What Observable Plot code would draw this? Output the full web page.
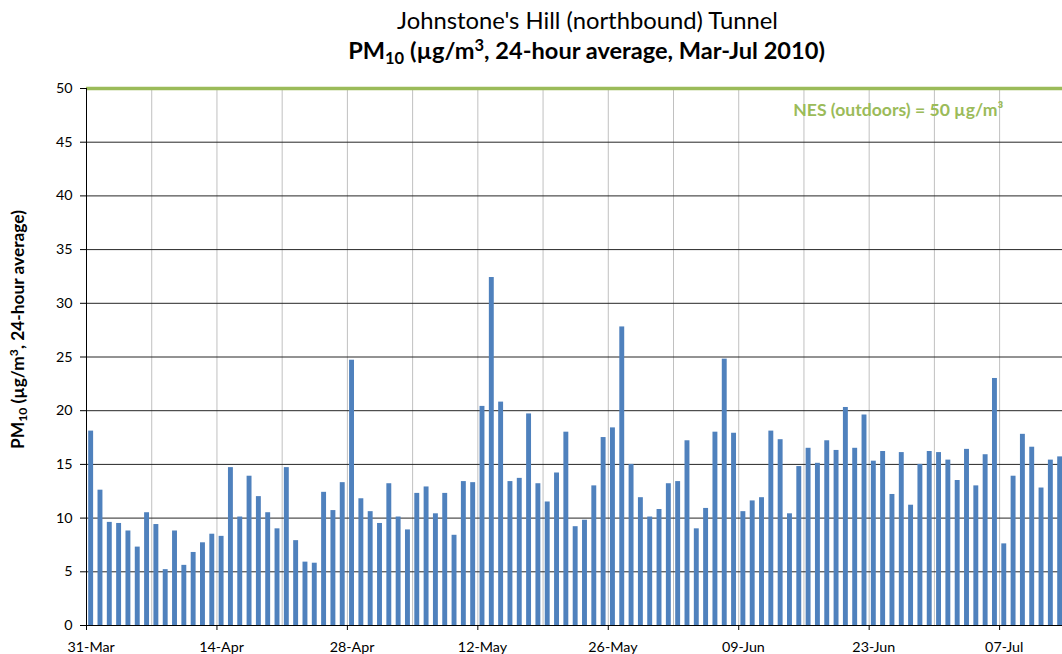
<!DOCTYPE html>
<html><head><meta charset="utf-8">
<script src="https://cdn.jsdelivr.net/npm/d3@7"></script>
<script src="https://cdn.jsdelivr.net/npm/@observablehq/plot@0.6"></script>
<style>
body{margin:0;background:#fff}
#chart{position:relative;width:1062px;height:654px;overflow:hidden}
</style>
</head><body><div id="chart"></div>
<script>
// ---- data ----
const startDate = "2010-03-31";
const pm10 = [18.1, 12.6, 9.6, 9.5, 8.8, 7.3, 10.5, 9.4, 5.2, 8.8, 5.6, 6.8, 7.7, 8.5, 8.3,
  14.7, 10.1, 13.9, 12.0, 10.5, 9.0, 14.7, 7.9, 5.9, 5.8, 12.4, 10.7, 13.3, 24.7, 11.8,
  10.6, 9.5, 13.2, 10.1, 8.9, 12.3, 12.9, 10.4, 12.3, 8.4, 13.4, 13.3, 20.4, 32.4, 20.8,
  13.4, 13.7, 19.7, 13.2, 11.5, 14.2, 18.0, 9.2, 9.8, 13.0, 17.5, 18.4, 27.8, 15.0, 11.9,
  10.1, 10.8, 13.2, 13.4, 17.2, 9.0, 10.9, 18.0, 24.8, 17.9, 10.6, 11.6, 11.9, 18.1, 17.3,
  10.4, 14.8, 16.5, 15.1, 17.2, 16.3, 20.3, 16.5, 19.6, 15.3, 16.2, 12.2, 16.1, 11.2, 15.0,
  16.2, 16.1, 15.4, 13.5, 16.4, 13.0, 15.9, 23.0, 7.6, 13.9, 17.8, 16.6, 12.8, 15.4, 15.7];
const xTickDates = ["2010-03-31", "2010-04-14", "2010-04-28", "2010-05-12", "2010-05-26", "2010-06-09", "2010-06-23", "2010-07-07"];
const xTickLabels = ["31-Mar", "14-Apr", "28-Apr", "12-May", "26-May", "09-Jun", "23-Jun", "07-Jul"];
const yTicks = [0, 5, 10, 15, 20, 25, 30, 35, 40, 45, 50];
const nesLimit = 50;
const nesLabel = "NES (outdoors) = 50 µg/m³";
const titleText = "Johnstone's Hill (northbound) Tunnel";

// ---- build ----
const start = new Date(startDate + "T00:00:00Z");
const end = new Date(start.getTime() + 104.75 * 864e5);
const rows = pm10.map((v, i) => ({
  start: d3.utcDay.offset(start, i),
  end: d3.utcDay.offset(start, i + 1),
  value: v
}));
const tickDates = xTickDates.map(s => new Date(s + "T00:00:00Z"));
const labelDates = tickDates.map(d => new Date(d.getTime() + 12 * 3600e3));
const labelMap = new Map(labelDates.map((d, i) => [d.getTime(), xTickLabels[i]]));
const gridDates = d3.utcDay.range(d3.utcDay.offset(start, 7), end, 7);
const yGrid = yTicks.filter(v => v > 0 && v < nesLimit);
const green = "#9BBB59";

const svg = Plot.plot({
  width: 1062, height: 654,
  marginLeft: 86, marginRight: 0, marginTop: 88, marginBottom: 29,
  x: {type: "utc", domain: [start, end]},
  y: {domain: [0, 50]},
  style: {fontFamily: "Lato, 'Open Sans', sans-serif", fontSize: "14.3px", color: "#000", background: "#fff", overflow: "visible"},
  marks: [
    Plot.ruleX(gridDates, {stroke: "#c0c0c0", strokeOpacity: 1}),
    Plot.ruleY(yGrid, {stroke: "#262626", strokeOpacity: 1}),
    Plot.rectY(rows, {x1: "start", x2: "end", y: "value", fill: "#4F81BD", insetLeft: 2.2, insetRight: 2.2}),
    Plot.ruleY([nesLimit], {stroke: green, strokeWidth: 3.4}),
    Plot.ruleX([start], {stroke: "#000"}),
    Plot.ruleY([0], {stroke: "#000"}),
    Plot.axisY({ticks: yTicks, tickSize: 6, tickPadding: 8, label: null, stroke: "#000"}),
    Plot.axisX({ticks: tickDates, tickSize: 5, tickFormat: () => "", label: null, stroke: "#000"}),
    Plot.axisX({ticks: labelDates, tickSize: 0, tickPadding: 16.6, tickFormat: d => labelMap.get(d.getTime()) ?? "", label: null}),
    Plot.text([nesLabel], {x: () => tickDates[tickDates.length - 1], y: () => nesLimit, text: d => d,
      textAnchor: "end", dx: 3.7, dy: 21.6, fill: green, fontWeight: "bold", fontSize: 17.6})
  ]
});
document.getElementById("chart").appendChild(svg);

// ---- rich-text titles ----
const s = d3.select(svg);
const FONT = "Lato, 'Open Sans', sans-serif";
function rich(x, y, parts, opts) {
  const t = s.append("text")
    .attr("x", x).attr("y", y)
    .attr("text-anchor", "middle")
    .attr("font-family", FONT)
    .attr("font-size", opts.size)
    .attr("font-weight", opts.weight || "normal")
    .attr("fill", "#000");
  if (opts.rotate) t.attr("transform", `rotate(-90 ${x} ${y})`);
  let shift = 0;
  for (const [txt, kind] of parts) {
    const ts = t.append("tspan").text(txt);
    let target = 0;
    if (kind === "sub") { ts.attr("font-size", "70%"); target = 0.2; }
    else if (kind === "sup") { ts.attr("font-size", "70%"); target = -0.35; }
    const d = target - shift;
    if (d !== 0) {
      const em = kind ? d / 0.7 : d;
      ts.attr("dy", em + "em");
    }
    shift = target;
  }
  if (opts.width) {
    const w = t.node().getComputedTextLength();
    if (w > 0) t.attr("font-size", opts.size * opts.width / w);
  }
  return t;
}
rich(587.5, 28.5, [[titleText]], {size: 22, width: 381});
rich(586.5, 59.3, [["PM"], ["10", "sub"], [" (µg/m"], ["3", "sup"], [", 24-hour average, Mar-Jul 2010)"]],
  {size: 21, weight: "bold", width: 477});
rich(24, 329.5, [["PM"], ["10", "sub"], [" (µg/m"], ["3", "sup"], [", 24-hour average)"]],
  {size: 15, weight: "bold", width: 239, rotate: true});
</script></body></html>
